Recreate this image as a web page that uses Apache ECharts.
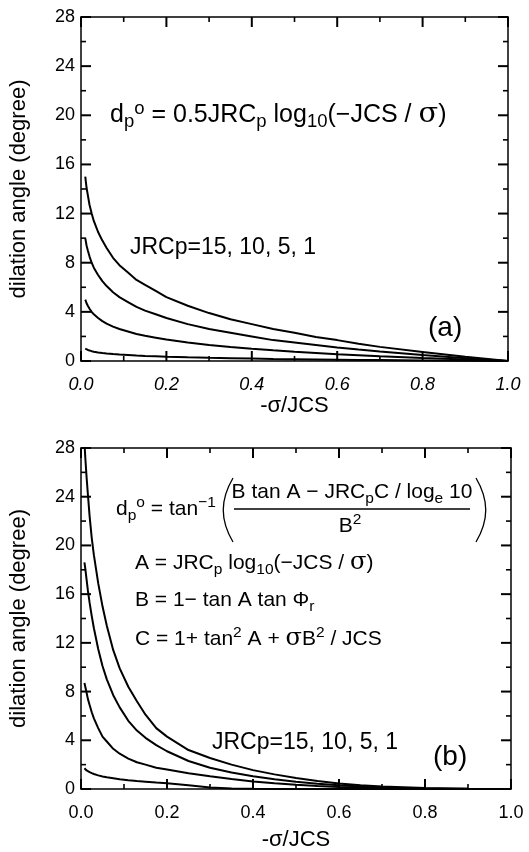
<!DOCTYPE html>
<html>
<head>
<meta charset="utf-8">
<script src="https://cdn.jsdelivr.net/npm/echarts@6/dist/echarts.min.js"></script>
<style>
  html, body { margin: 0; padding: 0; background: #fff; }
  #chart { width: 529px; height: 852px; }
</style>
</head>
<body>
<div id="chart"></div>
<script>
// panel (a): -sigma/JCS vs dilation angle
const xA = [0.01, 0.013, 0.016, 0.02, 0.025, 0.03, 0.04, 0.05, 0.06, 0.075, 0.09, 0.11, 0.13, 0.15, 0.175, 0.2, 0.25, 0.3, 0.35, 0.4, 0.45, 0.5, 0.55, 0.6, 0.65, 0.7, 0.8, 0.9, 1.0];
const a15 = [15, 14.1, 13.5, 12.7, 12.0, 11.4, 10.5, 9.8, 9.2, 8.4, 7.8, 7.2, 6.6, 6.2, 5.7, 5.2, 4.5, 3.9, 3.4, 3.0, 2.6, 2.3, 1.95, 1.7, 1.4, 1.15, 0.73, 0.34, 0];
const a10 = [10, 9.4, 9.0, 8.5, 8.0, 7.6, 7.0, 6.5, 6.1, 5.6, 5.2, 4.8, 4.4, 4.1, 3.8, 3.5, 3.0, 2.6, 2.3, 2.0, 1.7, 1.5, 1.3, 1.1, 0.93, 0.78, 0.49, 0.23, 0];
const a5 = [5, 4.7, 4.5, 4.25, 4.0, 3.8, 3.5, 3.25, 3.05, 2.8, 2.6, 2.4, 2.2, 2.05, 1.9, 1.75, 1.5, 1.3, 1.14, 1.0, 0.87, 0.75, 0.65, 0.55, 0.47, 0.39, 0.24, 0.12, 0];
const a1 = [1.0, 0.94, 0.9, 0.85, 0.8, 0.76, 0.7, 0.65, 0.61, 0.56, 0.52, 0.48, 0.44, 0.41, 0.38, 0.35, 0.3, 0.26, 0.23, 0.2, 0.17, 0.15, 0.13, 0.11, 0.09, 0.08, 0.05, 0.02, 0];

// panel (b)
const xB = [0.008, 0.01, 0.013, 0.016, 0.02, 0.025, 0.03, 0.04, 0.05, 0.06, 0.075, 0.09, 0.11, 0.13, 0.15, 0.175, 0.2, 0.25, 0.3, 0.35, 0.4, 0.45, 0.5, 0.55, 0.6, 0.65, 0.7, 0.8, 0.9, 1.0];
const b15 = [28.5, 27.2, 25.6, 24.2, 22.4, 20.6, 19.2, 16.9, 15.0, 13.4, 11.4, 9.9, 8.4, 7.2, 6.1, 5.0, 4.3, 3.2, 2.55, 2.0, 1.55, 1.2, 0.9, 0.65, 0.45, 0.3, 0.2, 0.08, 0.03, 0];
const b10 = [18.6, 18.1, 17.2, 16.3, 15.3, 14.2, 13.2, 11.5, 10.1, 9.0, 7.7, 6.7, 5.6, 4.8, 4.2, 3.6, 3.1, 2.3, 1.75, 1.35, 1.05, 0.8, 0.6, 0.43, 0.3, 0.2, 0.13, 0.05, 0.02, 0];
const b5 = [8.7, 8.4, 7.9, 7.4, 6.9, 6.3, 5.8, 5.0, 4.3, 3.9, 3.3, 2.9, 2.5, 2.2, 2.0, 1.75, 1.6, 1.3, 1.05, 0.82, 0.62, 0.47, 0.35, 0.25, 0.17, 0.11, 0.07, 0.03, 0.01, 0];
const b1 = [1.7, 1.62, 1.52, 1.45, 1.38, 1.3, 1.23, 1.12, 1.03, 0.96, 0.88, 0.8, 0.72, 0.65, 0.6, 0.53, 0.47, 0.3, 0.12, 0.05, 0.02, 0, 0, 0, 0, 0, 0, 0, 0, 0];

const yTicks = [0, 4, 8, 12, 16, 20, 24, 28];
const xTicks = [0.0, 0.2, 0.4, 0.6, 0.8, 1.0];

const FONT = "'Liberation Sans', Arial, sans-serif";
const chart = echarts.init(document.getElementById('chart'));

const pairs = (xs, ys) => xs.map((x, i) => [x, ys[i]]);

function xAx(grid, pos, labels, italic, gap) {
  return {
    type: 'value', gridIndex: grid, position: pos,
    min: xTicks[0], max: xTicks[xTicks.length - 1], interval: 0.2,
    axisLine: { show: true, onZero: false, lineStyle: { color: '#000', width: 1.5 } },
    axisTick: { show: false },
    splitLine: { show: false },
    axisLabel: {
      show: labels, margin: 15, color: '#000', fontSize: 18, fontFamily: FONT,
      fontStyle: italic ? 'italic' : 'normal',
      formatter: v => v.toFixed(1)
    },
    name: labels ? '-σ/JCS' : '', nameLocation: 'middle', nameGap: gap || 20,
    nameTextStyle: { color: '#000', fontSize: 22, fontFamily: FONT }
  };
}

function yAx(grid, pos, labels) {
  return {
    type: 'value', gridIndex: grid, position: pos,
    min: yTicks[0], max: yTicks[yTicks.length - 1], interval: 4,
    axisLine: { show: true, onZero: false, lineStyle: { color: '#000', width: 1.5 } },
    axisTick: { show: false },
    splitLine: { show: false },
    axisLabel: { show: labels, margin: 6, color: '#000', fontSize: 18, fontFamily: FONT },
    name: labels ? 'dilation angle (degree)' : '', nameLocation: 'middle', nameGap: 51,
    nameTextStyle: { color: '#000', fontSize: 22, fontFamily: FONT }
  };
}

function line(xi, xs, ys) {
  return {
    type: 'line', xAxisIndex: xi, yAxisIndex: xi,
    data: pairs(xs, ys), showSymbol: false, smooth: false,
    clip: true, silent: true,
    lineStyle: { color: '#000', width: 2 }
  };
}

const rich = (size) => ({
  m: { fontSize: size, fontFamily: FONT, color: '#000', lineHeight: 30, verticalAlign: 'middle' },
  sub: { fontSize: size * 0.74, fontFamily: FONT, color: '#000', lineHeight: 14, padding: [13, 0, 0, 0], verticalAlign: 'middle' },
  sup: { fontSize: size * 0.74, fontFamily: FONT, color: '#000', lineHeight: 14, padding: [0, 0, 13, 0], verticalAlign: 'middle' },
  sig: { fontSize: size * 1.15, fontFamily: "'DejaVu Serif', serif", color: '#000', lineHeight: 30, verticalAlign: 'middle' }
});

function txt(x, y, text, size, align) {
  return {
    type: 'text', x: x, y: y, silent: true,
    style: { text: text, rich: rich(size), align: align || 'left', verticalAlign: 'middle', fontFamily: FONT, fontSize: size, fill: '#000' }
  };
}

const notes = [
  // panel (a) annotations
  txt(110, 115, '{m|d}{sub|p}{sup|o}{m| = 0.5JRC}{sub|p}{m| log}{sub|10}{m|(−JCS / }{sig|σ}{m|)}', 25),
  txt(130, 248, '{m|JRCp=15, 10, 5, 1}', 23),
  txt(428, 328, '{m|(a)}', 28),
  // panel (b) annotations
  txt(116, 509, '{m|d}{sub|p}{sup|o}{m| = tan}{sup|−1}', 21),
  { type: 'bezierCurve', silent: true, shape: { x1: 233, y1: 478, x2: 233, y2: 542, cpx1: 220, cpy1: 500, cpx2: 220, cpy2: 520 }, style: { stroke: '#000', lineWidth: 1.3, fill: null } },
  txt(352, 492, '{m|B tan A − JRC}{sub|p}{m|C / log}{sub|e}{m| 10}', 21, 'center'),
  { type: 'line', silent: true, shape: { x1: 234, y1: 509, x2: 470, y2: 509 }, style: { stroke: '#000', lineWidth: 1.3 } },
  txt(350, 526, '{m|B}{sup|2}', 21, 'center'),
  { type: 'bezierCurve', silent: true, shape: { x1: 476, y1: 478, x2: 476, y2: 542, cpx1: 489, cpy1: 500, cpx2: 489, cpy2: 520 }, style: { stroke: '#000', lineWidth: 1.3, fill: null } },
  txt(135, 563, '{m|A = JRC}{sub|p}{m| log}{sub|10}{m|(−JCS / }{sig|σ}{m|)}', 21),
  txt(135, 600, '{m|B = 1− tan A tan Φ}{sub|r}', 21),
  txt(135, 639, '{m|C = 1+ tan}{sup|2}{m| A + }{sig|σ}{m|B}{sup|2}{m| / JCS}', 21),
  txt(212, 743, '{m|JRCp=15, 10, 5, 1}', 23),
  txt(433, 757, '{m|(b)}', 28)
];

const option = {
  backgroundColor: '#fff',
  animation: false,
  grid: [
    { left: 80, top: 17, width: 428, height: 344 },
    { left: 80, top: 448, width: 431, height: 343 }
  ],
  xAxis: [xAx(0, 'bottom', true, true, 33), xAx(0, 'top', false), xAx(1, 'bottom', true, false, 40), xAx(1, 'top', false)],
  yAxis: [yAx(0, 'left', true), yAx(0, 'right', false), yAx(1, 'left', true), yAx(1, 'right', false)],
  series: [
    line(0, xA, a15), line(0, xA, a10), line(0, xA, a5), line(0, xA, a1),
    line(2, xB, b15), line(2, xB, b10), line(2, xB, b5), line(2, xB, b1)
  ],
  graphic: notes
};

chart.setOption(option);

// inward major/minor ticks on all four sides, placed through each panel's own axes
function ticksFor(axisIndex) {
  const out = [];
  const x0 = xTicks[0], x1 = xTicks[xTicks.length - 1];
  const y0 = yTicks[0], y1 = yTicks[yTicks.length - 1];
  const px = p => chart.convertToPixel({ xAxisIndex: axisIndex, yAxisIndex: axisIndex }, p);
  const add = (s, major) => out.push({ type: 'line', silent: true, z: 100, shape: s, style: { stroke: '#000', lineWidth: major ? 2 : 1.6 } });
  const xs = [], ys = [];
  xTicks.forEach((v, i) => { xs.push([v, 1]); if (i < xTicks.length - 1) xs.push([(v + xTicks[i + 1]) / 2, 0]); });
  yTicks.forEach((v, i) => { ys.push([v, 1]); if (i < yTicks.length - 1) ys.push([(v + yTicks[i + 1]) / 2, 0]); });
  try {
    xs.forEach(([v, major]) => {
      const len = major ? 10 : 5;
      const a = px([v, y0]), b = px([v, y1]);
      add({ x1: a[0], y1: a[1], x2: a[0], y2: a[1] - len }, major);
      add({ x1: b[0], y1: b[1], x2: b[0], y2: b[1] + len }, major);
    });
    ys.forEach(([v, major]) => {
      const len = major ? 10 : 5;
      const a = px([x0, v]), b = px([x1, v]);
      add({ x1: a[0], y1: a[1], x2: a[0] + len, y2: a[1] }, major);
      add({ x1: b[0], y1: b[1], x2: b[0] - len, y2: b[1] }, major);
    });
  } catch (e) {
    console.error(e);
  }
  return out;
}

chart.setOption({ graphic: { elements: notes.concat(ticksFor(0), ticksFor(2)) } });
</script>
</body>
</html>
